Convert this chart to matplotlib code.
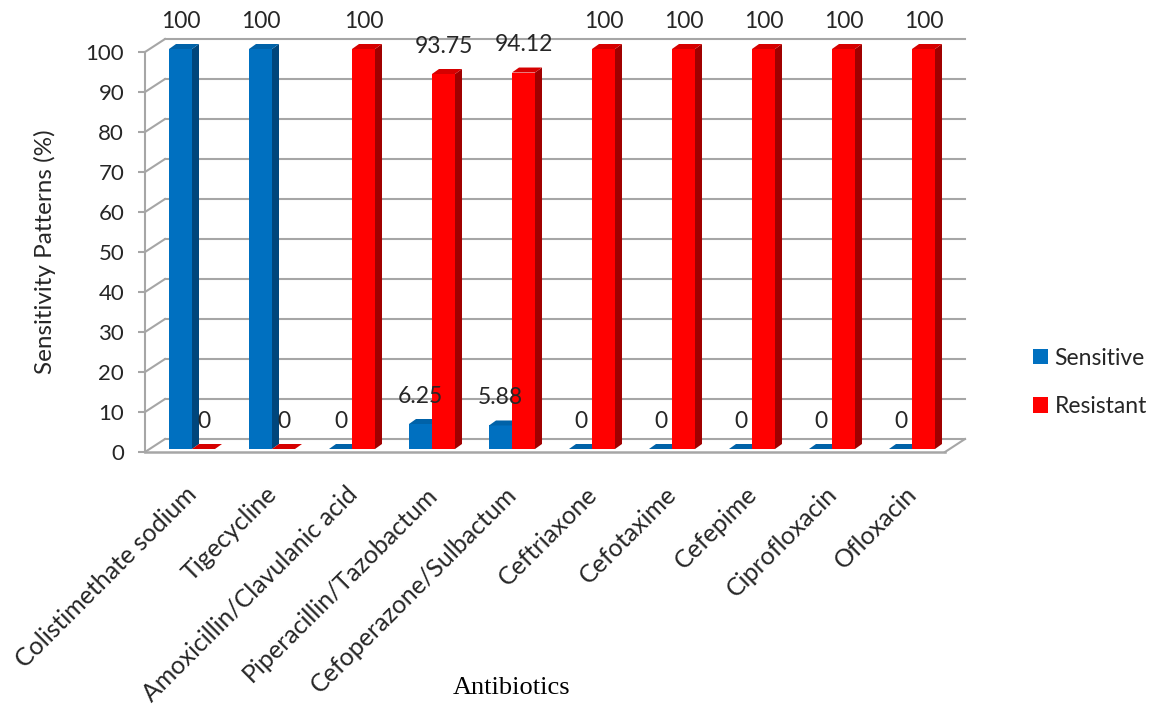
import matplotlib.pyplot as plt
from matplotlib.patches import Polygon, Patch

# data
antibiotics = ['Colistimethate sodium', 'Tigecycline', 'Amoxicillin/Clavulanic acid',
               'Piperacillin/Tazobactum', 'Cefoperazone/Sulbactum', 'Ceftriaxone',
               'Cefotaxime', 'Cefepime', 'Ciprofloxacin', 'Ofloxacin']
sensitive = [100, 100, 0, 6.25, 5.88, 0, 0, 0, 0, 0]
resistant = [0, 0, 100, 93.75, 94.12, 100, 100, 100, 100, 100]
sens_labels = ['100', '100', '0', '6.25', '5.88', '0', '0', '0', '0', '0']
res_labels = ['0', '0', '100', '93.75', '94.12', '100', '100', '100', '100', '100']

blue = ('#0070C0', '#0062A8', '#00467C')   # front, top, side
red = ('#FF0000', '#D60000', '#A00000')
grid_c = '#A6A6A6'
txt_c = '#262626'
lab_font = 'Lato'

# depth offsets (data units)
wall_dx, wall_dy = 0.25, 3.25
bar_dx, bar_dy = 0.0875, 1.25
base = 0.75
bw = 0.2875

fig = plt.figure(figsize=(11.66, 7.06), dpi=100)
ax = fig.add_axes([145 / 1166, (706 - 452) / 706, 800 / 1166, 400 / 706])
ax.set_xlim(0, 10)
ax.set_ylim(0, 100)
for s in ['top', 'right', 'bottom']:
    ax.spines[s].set_visible(False)
ax.spines['left'].set_color(grid_c)
ax.spines['left'].set_linewidth(1.5)

# back wall gridlines and side slants
for g in range(0, 101, 10):
    ax.plot([wall_dx, 10 + wall_dx], [g + wall_dy, g + wall_dy], color=grid_c, lw=1.5,
            clip_on=False, zorder=1)
    ax.plot([0, wall_dx], [g, g + wall_dy], color=grid_c, lw=1.5, clip_on=False, zorder=1)
# floor front edge
ax.plot([0, 10], [0, 0], color=grid_c, lw=1.8, clip_on=False, zorder=1)
ax.plot([10, 10 + wall_dx], [0, wall_dy], color=grid_c, lw=1.5, clip_on=False, zorder=1)


def bar3d(x0, v, cols):
    front, top, side = cols
    y1 = base + v
    if v > 0:
        ax.add_patch(Polygon([(x0 + bw, base), (x0 + bw + bar_dx, base + bar_dy),
                              (x0 + bw + bar_dx, y1 + bar_dy), (x0 + bw, y1)],
                             closed=True, fc=side, ec='none', zorder=3, clip_on=False))
        ax.add_patch(Polygon([(x0, base), (x0 + bw, base), (x0 + bw, y1), (x0, y1)],
                             closed=True, fc=front, ec='none', zorder=3, clip_on=False))
    ax.add_patch(Polygon([(x0, y1), (x0 + bw, y1), (x0 + bw + bar_dx, y1 + bar_dy),
                          (x0 + bar_dx, y1 + bar_dy)],
                         closed=True, fc=top, ec='none', zorder=3, clip_on=False))


for i in range(len(antibiotics)):
    xb = i + 0.30
    xr = xb + bw
    bar3d(xb, sensitive[i], blue)
    bar3d(xr, resistant[i], red)
    ax.text(xb + bw / 2, base + sensitive[i] + 6.9, sens_labels[i], ha='center', va='center',
            fontsize=16.5, family=lab_font, color=txt_c, zorder=5, clip_on=False)
    ax.text(xr + bw / 2, base + resistant[i] + 6.9, res_labels[i], ha='center', va='center',
            fontsize=16.5, family=lab_font, color=txt_c, zorder=5, clip_on=False)

ax.set_yticks(range(0, 101, 10))
ax.tick_params(axis='y', length=5, width=1.5, color=grid_c, pad=10, labelsize=16,
               labelcolor=txt_c)
for t in ax.get_yticklabels():
    t.set_family(lab_font)

ax.set_xticks([i + 0.5 for i in range(len(antibiotics))])
ax.set_xticklabels(antibiotics, rotation=45, ha='right', rotation_mode='anchor',
                   family=lab_font, fontsize=18, color=txt_c)
ax.tick_params(axis='x', length=0, pad=22)

fig.text(45 / 1166, 1 - 252 / 706, 'Sensitivity Patterns (%)', rotation=90, ha='center',
         va='center', fontsize=17.5, family=lab_font, color=txt_c)
fig.text(512 / 1166, 1 - 688 / 706, 'Antibiotics', ha='center', va='center',
         fontsize=19, family='Liberation Serif', color='black')

handles = [Patch(fc=blue[0], ec='none', label='Sensitive'),
           Patch(fc=red[0], ec='none', label='Resistant')]
fig.legend(handles=handles, loc='upper left', bbox_to_anchor=(1012 / 1166, 1 - 327 / 706),
           frameon=False, handlelength=0.65, handleheight=0.65, handletextpad=0.3,
           labelspacing=1.2, prop={'family': lab_font, 'size': 16.5}, labelcolor=txt_c)

fig.savefig('out.png', dpi=100)
